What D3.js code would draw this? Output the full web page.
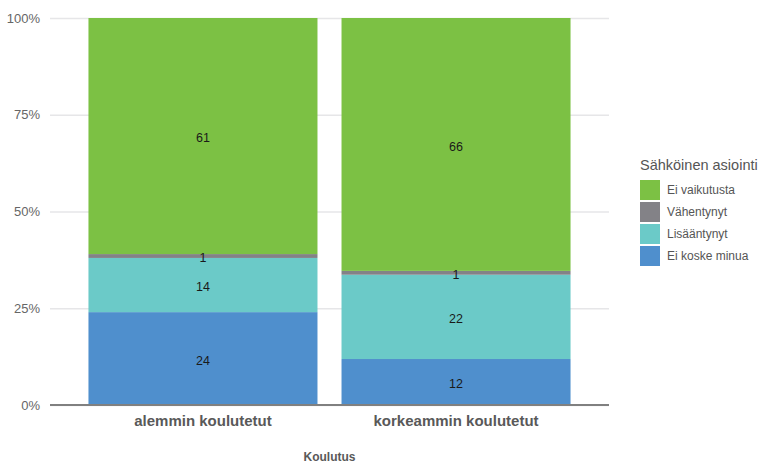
<!DOCTYPE html>
<html>
<head>
<meta charset="utf-8">
<script src="https://cdn.jsdelivr.net/npm/d3@7"></script>
<style>
  body { margin: 0; background: #fff; }
  svg { font-family: "Liberation Sans", Arial, sans-serif; }
</style>
</head>
<body>
<svg id="chart" width="759" height="463"></svg>
<script>
// Education groups on the x axis
const categories = ["alemmin koulutetut", "korkeammin koulutetut"];
// Response series, stacked bottom to top
const seriesNames = ["Ei koske minua", "Lisääntynyt", "Vähentynyt", "Ei vaikutusta"];
const eiKoskeMinua = [24, 12];
const lisaantynyt = [14, 22];
const vahentynyt = [1, 1];
const eiVaikutusta = [61, 66];
const seriesColors = ["#4f8fcd", "#6bcac8", "#838287", "#7cc144"];
const yTicks = [0, 0.25, 0.5, 0.75, 1];
const yTickLabels = ["0%", "25%", "50%", "75%", "100%"];

const valuesBySeries = [eiKoskeMinua, lisaantynyt, vahentynyt, eiVaikutusta];
const rows = categories.map((c, i) => {
  const r = { category: c };
  seriesNames.forEach((s, k) => { r[s] = valuesBySeries[k][i]; });
  return r;
});

const svg = d3.select("#chart");
const plot = { left: 50, right: 609, top: 18, bottom: 405 };

const x = d3.scaleBand()
  .domain(categories)
  .range([plot.left, plot.right])
  .paddingInner(0.095)
  .paddingOuter(0.152);

const y = d3.scaleLinear().domain([0, 1]).range([plot.bottom, plot.top]);

const color = d3.scaleOrdinal().domain(seriesNames).range(seriesColors);

const stacked = d3.stack()
  .keys(seriesNames)
  .offset(d3.stackOffsetExpand)(rows);

// Horizontal gridlines and y tick labels
const yAxis = d3.axisLeft(y)
  .tickValues(yTicks)
  .tickFormat((d, i) => yTickLabels[i])
  .tickSize(-(plot.right - plot.left))
  .tickPadding(10);

const gy = svg.append("g")
  .attr("transform", `translate(${plot.left},0)`)
  .call(yAxis);
gy.select(".domain").remove();
gy.selectAll(".tick line").attr("stroke", "#e6e6e8").attr("stroke-width", 1.5);
gy.selectAll(".tick text")
  .attr("fill", "#666")
  .style("font-size", "13px")
  .style("font-family", "Liberation Sans, Arial, sans-serif");

// Stacked bars
const layers = svg.append("g").selectAll("g")
  .data(stacked)
  .join("g")
  .attr("fill", d => color(d.key));

layers.selectAll("rect")
  .data(d => d)
  .join("rect")
  .attr("x", d => x(d.data.category))
  .attr("width", x.bandwidth())
  .attr("y", d => y(d[1]))
  .attr("height", d => y(d[0]) - y(d[1]));

// Value labels centred in each segment
const labels = svg.append("g");
stacked.forEach(layer => {
  layer.forEach(d => {
    labels.append("text")
      .attr("x", x(d.data.category) + x.bandwidth() / 2)
      .attr("y", (y(d[0]) + y(d[1])) / 2 + 2)
      .attr("dy", "0.35em")
      .attr("text-anchor", "middle")
      .attr("fill", "#1a1a1a")
      .style("font-size", "12.5px")
      .text(d.data[layer.key]);
  });
});

// x axis line and category labels
const xAxis = d3.axisBottom(x).tickSize(0).tickPadding(10);
const gx = svg.append("g")
  .attr("transform", `translate(0,${plot.bottom})`)
  .call(xAxis);
gx.select(".domain").remove();
gx.selectAll(".tick text")
  .attr("fill", "#595959")
  .style("font-size", "15px")
  .style("font-weight", "bold")
  .style("font-family", "Liberation Sans, Arial, sans-serif");

svg.append("line")
  .attr("x1", plot.left).attr("x2", plot.right)
  .attr("y1", plot.bottom).attr("y2", plot.bottom)
  .attr("stroke", "#808080").attr("stroke-width", 2);

// Axis title
svg.append("text")
  .attr("x", (plot.left + plot.right) / 2)
  .attr("y", 461)
  .attr("text-anchor", "middle")
  .attr("fill", "#595959")
  .style("font-size", "12px")
  .style("font-weight", "bold")
  .text("Koulutus");

// Legend (top series first)
const legend = svg.append("g").attr("transform", "translate(640,0)");
legend.append("text")
  .attr("x", 0).attr("y", 170)
  .attr("fill", "#555")
  .style("font-size", "14.5px")
  .text("Sähköinen asiointi");

const legendOrder = seriesNames.slice().reverse();
const items = legend.selectAll("g.item")
  .data(legendOrder)
  .join("g")
  .attr("class", "item")
  .attr("transform", (d, i) => `translate(0,${180 + i * 22})`);
items.append("rect")
  .attr("width", 20).attr("height", 20)
  .attr("fill", d => color(d));
items.append("text")
  .attr("x", 27).attr("y", 10)
  .attr("dy", "0.35em")
  .attr("fill", "#555")
  .style("font-size", "12px")
  .text(d => d);
</script>
</body>
</html>
